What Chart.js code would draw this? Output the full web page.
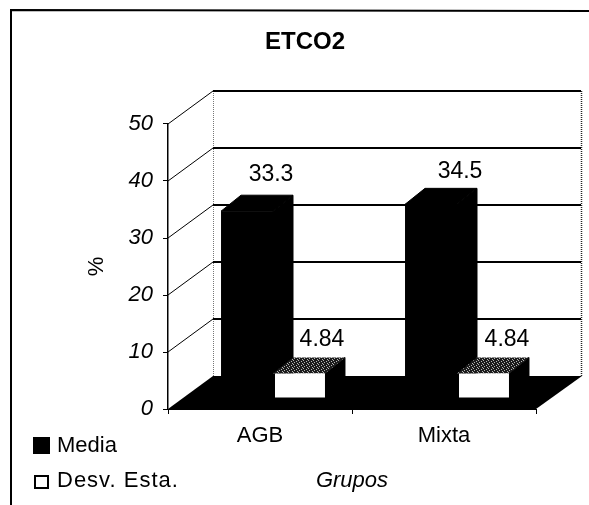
<!DOCTYPE html>
<html>
<head>
<meta charset="utf-8">
<style>html,body{margin:0;padding:0;background:#fff}canvas{display:block}</style>
<script src="https://cdn.jsdelivr.net/npm/chart.js@4"></script>
</head>
<body>
<div style="width:589px;height:505px"><canvas id="c" width="589" height="505"></canvas></div>
<script>
const categories = ["AGB", "Mixta"];
const media = [33.3, 34.5];
const desvEsta = [4.84, 4.84];
const seriesNames = ["Media", "Desv. Esta."];
const yTicks = [0, 10, 20, 30, 40, 50];

const FONT = '"Liberation Sans", Arial, sans-serif';
const wallDepth = {dx: 45, dy: -33};
const faceShift = {dx: 13, dy: -8};
const barDepth = {dx: 20, dy: -16};
const labelNudge = [[{x: 14, y: -21}, {x: 19, y: -17}], [{x: 13, y: -18}, {x: 14, y: -18}]];

function speckle() {
  const p = document.createElement('canvas');
  p.width = 5; p.height = 4;
  const g = p.getContext('2d');
  g.fillStyle = '#1c1c1c'; g.fillRect(0, 0, 5, 4);
  g.fillStyle = '#b5b5b5';
  g.fillRect(0, 0, 1, 1); g.fillRect(3, 1, 1, 1); g.fillRect(1, 2, 1, 1); g.fillRect(4, 3, 1, 1);
  return p;
}

function poly(ctx, pts, fill, outline) {
  ctx.beginPath();
  pts.forEach((p, i) => i ? ctx.lineTo(p[0], p[1]) : ctx.moveTo(p[0], p[1]));
  ctx.closePath();
  ctx.fillStyle = fill;
  ctx.fill();
  if (outline) { ctx.strokeStyle = '#000'; ctx.lineWidth = 1; ctx.stroke(); }
}

const scene = {
  id: 'scene',
  afterLayout(chart) {
    chart.titleBlock.right = 610;
  },
  beforeDatasetsDraw(chart) {
    const {ctx, chartArea: a, scales: {y}} = chart;
    const d = wallDepth;
    ctx.save();
    ctx.lineCap = 'butt';
    poly(ctx, [[a.left, a.bottom], [a.right, a.bottom], [a.right + d.dx + 1, a.bottom + d.dy], [a.left + d.dx, a.bottom + d.dy]], '#000');
    ctx.lineWidth = 1;
    ctx.setLineDash([1, 1]);
    ctx.strokeStyle = '#777';
    ctx.beginPath();
    ctx.moveTo(a.left + d.dx + .5, a.top + d.dy); ctx.lineTo(a.left + d.dx + .5, a.bottom + d.dy);
    ctx.stroke();
    ctx.strokeStyle = '#222';
    ctx.lineWidth = 1.5;
    ctx.beginPath();
    ctx.moveTo(a.right + d.dx + .5, a.top + d.dy); ctx.lineTo(a.right + d.dx + .5, a.bottom + d.dy);
    ctx.stroke();
    ctx.setLineDash([]);
    ctx.strokeStyle = '#000';
    yTicks.slice(1).forEach(v => {
      const py = y.getPixelForValue(v);
      ctx.lineWidth = 1;
      ctx.beginPath(); ctx.moveTo(a.left, py); ctx.lineTo(a.left + d.dx, py + d.dy); ctx.stroke();
      ctx.lineWidth = 2;
      ctx.beginPath(); ctx.moveTo(a.left + d.dx, py + d.dy); ctx.lineTo(a.right + d.dx, py + d.dy); ctx.stroke();
    });
    // bar sides and tops sit behind every front face
    ctx.translate(faceShift.dx, faceShift.dy);
    const b = barDepth;
    [0, 1].forEach(i => chart.getDatasetMeta(i).data.forEach(bar => {
      const l = bar.x - bar.width / 2, r = bar.x + bar.width / 2;
      poly(ctx, [[r, bar.y], [r + b.dx, bar.y + b.dy], [r + b.dx, bar.base + b.dy], [r, bar.base]], '#000', true);
      if (i === 0) {
        poly(ctx, [[l, bar.y], [l + b.dx, bar.y + b.dy], [r + b.dx, bar.y + b.dy], [r, bar.y]], '#000', true);
      } else {
        poly(ctx, [[l, bar.y], [l + b.dx, bar.y + b.dy], [r + b.dx, bar.y + b.dy], [r, bar.y]], ctx.createPattern(speckle(), 'repeat'));
      }
    }));
    ctx.restore();
  },
  beforeDatasetDraw(chart) {
    chart.ctx.save();
    chart.ctx.translate(faceShift.dx, faceShift.dy);
  },
  afterDatasetDraw(chart, args) {
    const {ctx} = chart;
    if (args.index === 1) {
      ctx.fillStyle = '#000';
      chart.getDatasetMeta(1).data.forEach(bar => {
        const l = bar.x - bar.width / 2;
        ctx.fillRect(l, bar.base - 3, bar.width + 1, 4);
        ctx.fillRect(l - 1, bar.y, 3, bar.base - bar.y);
      });
    }
    ctx.restore();
  },
  afterDraw(chart) {
    const {ctx} = chart;
    ctx.save();
    ctx.fillStyle = '#000';
    ctx.font = '23px ' + FONT;
    ctx.textAlign = 'center';
    ctx.textBaseline = 'middle';
    chart.data.datasets.forEach((ds, i) => {
      chart.getDatasetMeta(i).data.forEach((bar, j) => {
        const n = labelNudge[i][j];
        ctx.fillText(String(ds.data[j]),
          bar.x + faceShift.dx + barDepth.dx / 2 + n.x,
          bar.y + faceShift.dy + barDepth.dy + n.y);
      });
    });
    ctx.textAlign = 'left';
    ctx.font = '22px ' + FONT;
    ctx.fillStyle = '#000';
    ctx.fillRect(33, 437, 17, 17);
    ctx.fillText(seriesNames[0], 57, 446);
    ctx.lineWidth = 2;
    ctx.strokeStyle = '#000';
    ctx.strokeRect(35, 476, 13, 12);
    ctx.letterSpacing = '1px';
    ctx.fillText(seriesNames[1], 57, 481);
    ctx.letterSpacing = '0px';
    ctx.lineWidth = 2;
    ctx.beginPath();
    ctx.moveTo(11, 505); ctx.lineTo(11, 10); ctx.lineTo(589, 11);
    ctx.stroke();
    ctx.restore();
  }
};

new Chart(document.getElementById('c'), {
  type: 'bar',
  data: {
    labels: categories,
    datasets: [
      {label: seriesNames[0], data: media, backgroundColor: '#000'},
      {label: seriesNames[1], data: desvEsta, backgroundColor: '#fff'}
    ]
  },
  plugins: [scene],
  options: {
    responsive: false,
    animation: false,
    layout: {padding: {top: 0, right: 53, left: 0, bottom: 0}},
    categoryPercentage: 0.565,
    barPercentage: 1,
    plugins: {
      legend: {display: false},
      tooltip: {enabled: false},
      title: {display: true, text: 'ETCO2', color: '#000', font: {family: FONT, size: 24, weight: 'bold', lineHeight: 1.2}, padding: {top: 27.6, bottom: 67.6}, position: 'top', fullSize: true}
    },
    scales: {
      x: {
        offset: true,
        afterFit(s) { s.height = 96; },
        border: {color: '#000', width: 1},
        grid: {display: true, offset: true, drawOnChartArea: false, color: '#000', tickLength: 5},
        ticks: {color: '#000', padding: 9, maxRotation: 0, font: {family: FONT, size: 22}},
        title: {display: true, text: 'Grupos', color: '#000', padding: {top: 0, bottom: 11}, font: {family: FONT, size: 22, style: 'italic'}}
      },
      y: {
        min: 0, max: 50,
        afterFit(s) { s.width = 168; },
        afterBuildTicks(s) { s.ticks = yTicks.map(v => ({value: v})); },
        border: {color: '#000', width: 1.5},
        grid: {display: true, drawOnChartArea: false, color: '#000', tickLength: 5},
        ticks: {color: '#000', padding: 10, font: {family: FONT, size: 22, style: 'italic'}},
        title: {display: true, text: '%', color: '#000', padding: {top: 84, bottom: 0}, font: {family: FONT, size: 22}}
      }
    }
  }
});
</script>
</body>
</html>
